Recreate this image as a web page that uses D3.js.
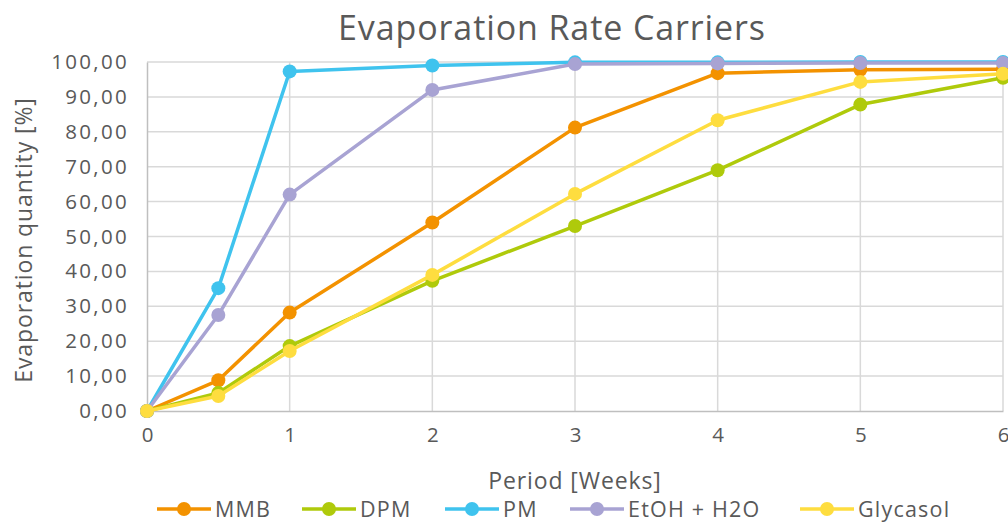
<!DOCTYPE html>
<html><head><meta charset="utf-8">
<script src="https://cdn.jsdelivr.net/npm/d3@7"></script>
<style>
body{margin:0;background:#fff;}
text{font-family:"Open Sans",sans-serif;fill:#595959;}
</style></head>
<body><svg id="c" width="1008" height="522"></svg>
<script>
const weeks = [0, 0.5, 1, 2, 3, 4, 5, 6];
const seriesNames = ["MMB", "DPM", "PM", "EtOH + H2O", "Glycasol"];
const seriesColors = ["#F39200", "#AFCA0B", "#3FC3EE", "#A8A3D3", "#FEDD3F"];
const mmb = [0, 8.8, 28.2, 54.0, 81.2, 96.8, 97.8, 97.9];
const dpm = [0, 5.2, 18.6, 37.3, 53.0, 69.0, 87.8, 95.5];
const pm = [0, 35.2, 97.3, 99.0, 99.9, 99.9, 100, 100];
const etoh = [0, 27.5, 62.0, 92.0, 99.4, 99.6, 99.7, 99.7];
const glycasol = [0, 4.3, 17.2, 39.0, 62.2, 83.3, 94.3, 96.6];
const xTicks = [0, 1, 2, 3, 4, 5, 6];
const yTicks = [0, 10, 20, 30, 40, 50, 60, 70, 80, 90, 100];
const seriesValues = [mmb, dpm, pm, etoh, glycasol];

const svg = d3.select("#c");
const x = d3.scaleLinear().domain([0, 6]).range([147, 1003]);
const y = d3.scaleLinear().domain([0, 100]).range([411, 62]);
const fmt = v => d3.format(".2f")(v).replace(".", ",");

// grid
svg.append("g").selectAll("line").data(yTicks.slice(1)).join("line")
  .attr("x1", x(0)).attr("x2", x(6)).attr("y1", d => y(d)).attr("y2", d => y(d))
  .attr("stroke", "#d9d9d9").attr("stroke-width", 1.5);
svg.append("g").selectAll("line").data(xTicks.slice(1)).join("line")
  .attr("x1", d => x(d)).attr("x2", d => x(d)).attr("y1", y(0)).attr("y2", y(100))
  .attr("stroke", "#d9d9d9").attr("stroke-width", 1.5);

// axes
const yAxis = svg.append("g").attr("transform", `translate(${x(0)},0)`)
  .call(d3.axisLeft(y).tickValues(yTicks).tickFormat(fmt).tickSize(0).tickPadding(18));
yAxis.select(".domain").attr("stroke", "#bfbfbf").attr("stroke-width", 1.5);
yAxis.selectAll("text").style("font-size", "20.5px").style("letter-spacing", "2.3px").attr("fill", "#595959");
const xAxis = svg.append("g").attr("transform", `translate(0,${y(0)})`)
  .call(d3.axisBottom(x).tickValues(xTicks).tickFormat(d3.format("d")).tickSize(0).tickPadding(16));
xAxis.select(".domain").attr("stroke", "#bfbfbf").attr("stroke-width", 1.5);
xAxis.selectAll("text").style("font-size", "20.5px").attr("fill", "#595959");

// lines
const line = d3.line().x((d, i) => x(weeks[i])).y(d => y(d));
seriesValues.forEach((vals, k) => {
  const g = svg.append("g");
  g.append("path").datum(vals).attr("d", line).attr("fill", "none")
    .attr("stroke", seriesColors[k]).attr("stroke-width", 3.5).attr("stroke-linejoin", "round");
  g.selectAll("circle").data(vals).join("circle")
    .attr("cx", (d, i) => x(weeks[i])).attr("cy", d => y(d)).attr("r", 7)
    .attr("fill", seriesColors[k]);
});

// title
svg.append("text").attr("x", 552).attr("y", 40).attr("text-anchor", "middle")
  .style("font-size", "34px").style("letter-spacing", "0.9px").text("Evaporation Rate Carriers");
svg.append("text").attr("x", 575).attr("y", 489).attr("text-anchor", "middle")
  .style("font-size", "23px").style("letter-spacing", "0.9px").text("Period [Weeks]");
svg.append("text").attr("transform", "translate(32,240) rotate(-90)").attr("text-anchor", "middle")
  .style("font-size", "23px").style("letter-spacing", "0.9px").text("Evaporation quantity [%]");

// legend
const legX = [157, 302, 445, 570, 800];
seriesNames.forEach((n, k) => {
  const g = svg.append("g").attr("transform", `translate(${legX[k]},509)`);
  g.append("line").attr("x1", 0).attr("x2", 54).attr("stroke", seriesColors[k]).attr("stroke-width", 3.5);
  g.append("circle").attr("cx", 27).attr("r", 7).attr("fill", seriesColors[k]);
  g.append("text").attr("x", 58).attr("y", 7.5).style("font-size", "21.5px").style("letter-spacing", "1.2px").text(n);
});
</script></body></html>
